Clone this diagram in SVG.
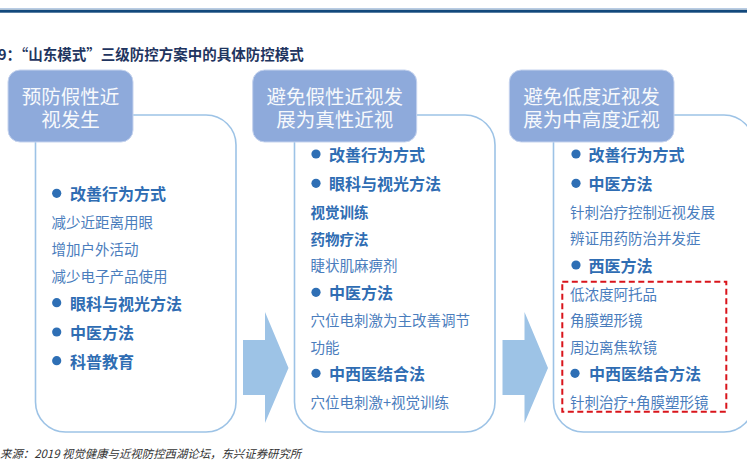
<svg xmlns="http://www.w3.org/2000/svg" width="747" height="467" viewBox="0 0 747 467">
<style>
text{font-family:"Noto Sans CJK SC","Noto Sans",sans-serif;dominant-baseline:central}
.hd{fill:#8eaadb;stroke:#c5d3ee;stroke-width:1}
.ht{fill:#f7f9fc;font-size:19.5px;text-anchor:middle}
.ol{fill:none;stroke:#9dc3e6;stroke-width:1.6}
.b{fill:#2f6db3;font-size:16px;font-weight:bold}
.s{fill:#2f6db3;font-size:14.5px;font-weight:bold}
.n{fill:#4a7dbd;font-size:14.5px}
.dot{fill:#2e6fb5}
.arr{fill:#9dc3e6}
</style>
<rect x="0" y="8" width="747" height="1.2" fill="#b8cce4"/>
<rect x="0" y="9.7" width="747" height="3" fill="#12487c"/>
<text x="-2" y="53" font-size="14.5" font-weight="bold" fill="#1f3560">9：“山东模式”三级防控方案中的具体防控模式</text>

<g id="connectors">
<polygon class="arr" points="243,340 265,340 265,312 288.5,368 265,423 265,395 243,395"/>
<polygon class="arr" points="502.5,340 524.5,340 524.5,312 548,368 524.5,423 524.5,395 502.5,395"/>
</g>

<g id="stage1">
<path class="ol" d="M35.5,142 V402 A30,30 0 0 0 65.5,432 H206 A30,30 0 0 0 236,402 V145 A30,30 0 0 0 206,115 H133"/>
<rect class="hd" x="8" y="70" width="125" height="72" rx="12"/>
<text class="ht" x="70.5" y="95">预防假性近</text>
<text class="ht" x="70.5" y="118">视发生</text>
<circle class="dot" cx="56.7" cy="193.3" r="4.6"/>
<text class="b" x="70" y="193.3">改善行为方式</text>
<text class="n" x="51.5" y="221.7">减少近距离用眼</text>
<text class="n" x="51.5" y="248.3">增加户外活动</text>
<text class="n" x="51.5" y="275">减少电子产品使用</text>
<circle class="dot" cx="56.7" cy="302.7" r="4.6"/>
<text class="b" x="70" y="302.7">眼科与视光方法</text>
<circle class="dot" cx="56.7" cy="332" r="4.6"/>
<text class="b" x="70" y="332">中医方法</text>
<circle class="dot" cx="56.7" cy="360.7" r="4.6"/>
<text class="b" x="70" y="360.7">科普教育</text>
</g>

<g id="stage2">
<path class="ol" d="M294.5,142 V402 A30,30 0 0 0 324.5,432 H465 A30,30 0 0 0 495,402 V145 A30,30 0 0 0 465,115 H416.7"/>
<rect class="hd" x="252.7" y="70" width="164" height="72" rx="12"/>
<text class="ht" x="334.7" y="95">避免假性近视发</text>
<text class="ht" x="334.7" y="118">展为真性近视</text>
<circle class="dot" cx="316" cy="154" r="4.6"/>
<text class="b" x="329" y="154">改善行为方式</text>
<circle class="dot" cx="316" cy="183.3" r="4.6"/>
<text class="b" x="329" y="183.3">眼科与视光方法</text>
<text class="s" x="310.5" y="211">视觉训练</text>
<text class="s" x="310.5" y="238.3">药物疗法</text>
<text class="n" x="310.5" y="264">睫状肌麻痹剂</text>
<circle class="dot" cx="316" cy="292.3" r="4.6"/>
<text class="b" x="329" y="292.3">中医方法</text>
<text class="n" x="310.5" y="319.3">穴位电刺激为主改善调节</text>
<text class="n" x="310.5" y="346">功能</text>
<circle class="dot" cx="316" cy="373.3" r="4.6"/>
<text class="b" x="329" y="373.3">中西医结合法</text>
<text class="n" x="310.5" y="401.7">穴位电刺激+视觉训练</text>
</g>

<g id="stage3">
<path class="ol" d="M553.5,142 V402 A30,30 0 0 0 583.5,432 H724 A30,30 0 0 0 754,402 V145 A30,30 0 0 0 724,115 H674"/>
<rect class="hd" x="509.3" y="70" width="164.7" height="72" rx="12"/>
<text class="ht" x="591.6" y="95">避免低度近视发</text>
<text class="ht" x="591.6" y="118">展为中高度近视</text>
<circle class="dot" cx="576" cy="154" r="4.6"/>
<text class="b" x="588.5" y="154">改善行为方式</text>
<circle class="dot" cx="576" cy="183.3" r="4.6"/>
<text class="b" x="588.5" y="183.3">中医方法</text>
<text class="n" x="570" y="211">针刺治疗控制近视发展</text>
<text class="n" x="570" y="237.7">辨证用药防治并发症</text>
<circle class="dot" cx="576" cy="265" r="4.6"/>
<text class="b" x="588.5" y="265">西医方法</text>
<rect x="562.3" y="281.7" width="164" height="130" fill="none" stroke="#d9141b" stroke-width="2" stroke-dasharray="6,3.5"/>
<text class="n" x="570" y="293.3">低浓度阿托品</text>
<text class="n" x="570" y="319.3">角膜塑形镜</text>
<text class="n" x="570" y="346">周边离焦软镜</text>
<circle class="dot" cx="575" cy="373.3" r="4.6"/>
<text class="b" x="589" y="373.3">中西医结合方法</text>
<text class="n" x="570" y="401.7">针刺治疗+角膜塑形镜</text>
</g>

<text x="0" y="453.3" font-size="11.4" font-style="italic" fill="#333333">来源：2019 视觉健康与近视防控西湖论坛，东兴证券研究所</text>
</svg>
